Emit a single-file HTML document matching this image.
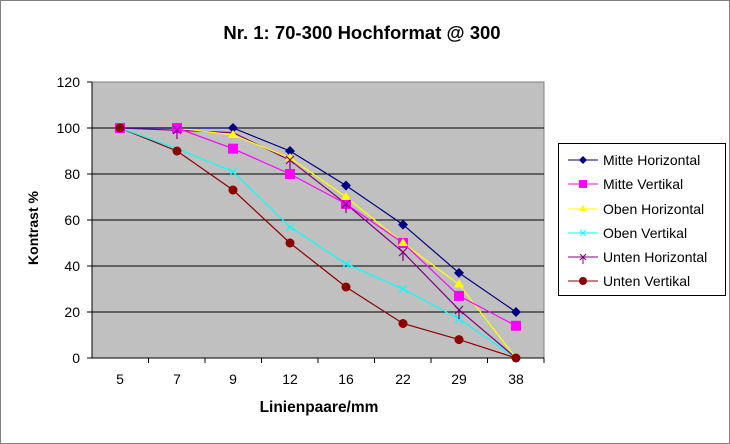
<!DOCTYPE html>
<html><head><style>body{margin:0;background:#fff}svg{display:block;font-family:"Liberation Sans",Arial,sans-serif}</style></head><body>
<svg width="730" height="444" viewBox="0 0 730 444">
<rect x="0.5" y="0.5" width="729" height="443" fill="#fff" stroke="#808080"/>
<text x="362" y="39" text-anchor="middle" font-size="18.5" font-weight="bold">Nr. 1: 70-300 Hochformat @ 300</text>
<rect x="92" y="82" width="452" height="276" fill="#c0c0c0" stroke="#808080"/>
<g stroke="#000" stroke-width="1">
<line x1="92" x2="544" y1="128" y2="128"/><line x1="92" x2="544" y1="174" y2="174"/><line x1="92" x2="544" y1="220" y2="220"/><line x1="92" x2="544" y1="266" y2="266"/><line x1="92" x2="544" y1="312" y2="312"/>
<line x1="92" x2="92" y1="82" y2="358"/><line x1="92" x2="544" y1="358" y2="358"/>
<line x1="87" x2="92" y1="82" y2="82"/><line x1="87" x2="92" y1="128" y2="128"/><line x1="87" x2="92" y1="174" y2="174"/><line x1="87" x2="92" y1="220" y2="220"/><line x1="87" x2="92" y1="266" y2="266"/><line x1="87" x2="92" y1="312" y2="312"/><line x1="87" x2="92" y1="358" y2="358"/>
<line x1="148.5" x2="148.5" y1="358" y2="363"/><line x1="205" x2="205" y1="358" y2="363"/><line x1="261.5" x2="261.5" y1="358" y2="363"/><line x1="318" x2="318" y1="358" y2="363"/><line x1="374.5" x2="374.5" y1="358" y2="363"/><line x1="431" x2="431" y1="358" y2="363"/><line x1="487.5" x2="487.5" y1="358" y2="363"/><line x1="544" x2="544" y1="358" y2="363"/>
</g>
<g font-size="14" text-anchor="end">
<text x="80" y="87">120</text><text x="80" y="133">100</text><text x="80" y="179">80</text><text x="80" y="225">60</text><text x="80" y="271">40</text><text x="80" y="317">20</text><text x="80" y="363">0</text>
</g>
<g font-size="14" text-anchor="middle">
<text x="120" y="384">5</text><text x="177" y="384">7</text><text x="233" y="384">9</text><text x="290" y="384">12</text><text x="346" y="384">16</text><text x="403" y="384">22</text><text x="459" y="384">29</text><text x="516" y="384">38</text>
</g>
<text x="319" y="412" text-anchor="middle" font-size="15.5" font-weight="bold">Linienpaare/mm</text>
<text transform="translate(38,228) rotate(-90)" text-anchor="middle" font-size="14" font-weight="bold">Kontrast %</text>
<g fill="none" stroke-width="1.2">
<polyline stroke="#8b0000" points="120,128 177,151 233,190 290,243 346,287 403,323.5 459,339.6 516,358"/>
<polyline stroke="#00ffff" points="120,128 177,148.7 233,171.7 290,226.9 346,263.7 403,289 459,318.9 516,358"/>
<polyline stroke="#800080" points="120,128 177,130.3 233,132.6 290,160.2 346,203.9 403,252.2 459,309.7 516,358"/>
<polyline stroke="#ffff00" points="120,128 177,128 233,134.9 290,157.9 346,197 403,243 459,284.4 516,358"/>
<polyline stroke="#ff00ff" points="120,128 177,128 233,148.7 290,174 346,203.9 403,243 459,295.9 516,325.8"/>
<polyline stroke="#000080" points="120,128 177,128 233,128 290,151 346,185.5 403,224.6 459,272.9 516,312"/>
</g>
<g fill="#000080"><path d="M120 123l5 5-5 5-5-5z M233 123l5 5-5 5-5-5z M290 146l5 5-5 5-5-5z M346 180.5l5 5-5 5-5-5z M403 219.6l5 5-5 5-5-5z M459 267.9l5 5-5 5-5-5z M516 307l5 5-5 5-5-5z"/></g>
<g fill="#ff00ff"><rect x="115" y="123" width="10" height="10"/><rect x="172" y="123" width="10" height="10"/><rect x="228" y="143.7" width="10" height="10"/><rect x="285" y="169" width="10" height="10"/><rect x="341" y="198.9" width="10" height="10"/><rect x="398" y="238" width="10" height="10"/><rect x="454" y="290.9" width="10" height="10"/><rect x="511" y="320.8" width="10" height="10"/></g>
<g fill="#ffff00"><path d="M233 129.9l5 8h-10z M290 152.9l5 8h-10z M346 192l5 8h-10z M403 238l5 8h-10z M459 279.4l5 8h-10z"/></g>
<g stroke="#00ffff" stroke-width="1.2"><path d="M229 168l8 8m0-8l-8 8 M286 223l8 8m0-8l-8 8 M342 260l8 8m0-8l-8 8 M399 285l8 8m0-8l-8 8 M455 315l8 8m0-8l-8 8"/></g>
<g stroke="#800080" stroke-width="1.2"><path d="M173 126l8 8m0-8l-8 8m4-5v10 M286 156l8 8m0-8l-8 8m4-5v10 M342 200l8 8m0-8l-8 8m4-5v10 M399 248l8 8m0-8l-8 8m4-5v10 M455 306l8 8m0-8l-8 8m4-5v10"/></g>
<g fill="#8b0000"><circle cx="120" cy="128" r="4.5"/><circle cx="177" cy="151" r="4.5"/><circle cx="233" cy="190" r="4.5"/><circle cx="290" cy="243" r="4.5"/><circle cx="346" cy="287" r="4.5"/><circle cx="403" cy="323.5" r="4.5"/><circle cx="459" cy="339.6" r="4.5"/><circle cx="516" cy="358" r="4.5"/></g>
<rect x="558.5" y="143.5" width="167" height="152" fill="#fff" stroke="#000"/>
<g font-size="14">
<line x1="568" x2="598" y1="160" y2="160" stroke="#000080"/><path d="M583 156l4 4-4 4-4-4z" fill="#000080"/><text x="603" y="165">Mitte Horizontal</text>
<line x1="568" x2="598" y1="184" y2="184" stroke="#ff00ff"/><rect x="579" y="180" width="8" height="8" fill="#ff00ff"/><text x="603" y="189">Mitte Vertikal</text>
<line x1="568" x2="598" y1="209" y2="209" stroke="#ffff00"/><path d="M583 205l4 6h-8z" fill="#ffff00"/><text x="603" y="214">Oben Horizontal</text>
<line x1="568" x2="598" y1="233" y2="233" stroke="#00ffff"/><path d="M580 230l6 6m0-6l-6 6" stroke="#00ffff"/><text x="603" y="238">Oben Vertikal</text>
<line x1="568" x2="598" y1="257" y2="257" stroke="#800080"/><path d="M580 254l6 6m0-6l-6 6m3-4v8" stroke="#800080"/><text x="603" y="262">Unten Horizontal</text>
<line x1="568" x2="598" y1="281" y2="281" stroke="#8b0000"/><circle cx="583" cy="281" r="4" fill="#8b0000"/><text x="603" y="286">Unten Vertikal</text>
</g>
</svg>
</body></html>
